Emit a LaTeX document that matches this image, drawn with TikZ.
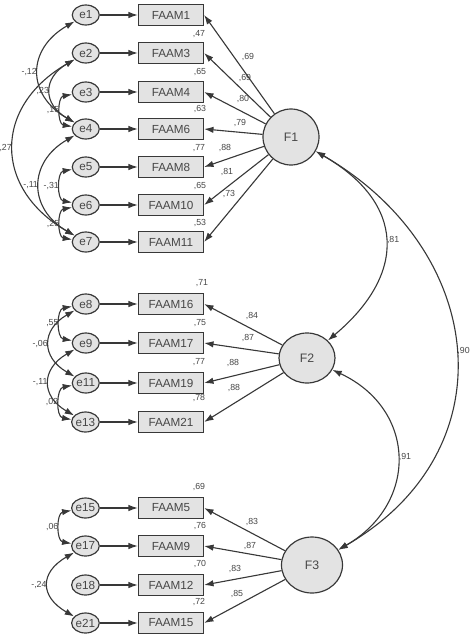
\documentclass[tikz,border=0pt]{standalone}
\usepackage{fontspec}
\setmainfont{Liberation Sans}
\usetikzlibrary{shapes.geometric, arrows.meta, positioning}

\definecolor{linegray}{HTML}{383838}
\definecolor{fillgray}{HTML}{E3E3E3}
\definecolor{textgray}{HTML}{474747}

\tikzset{
  obs/.style={draw=linegray, fill=fillgray, line width=1.1pt, minimum width=1.95cm,
    minimum height=0.63cm, inner sep=0pt, text=textgray, font=\fontsize{10}{12}\selectfont},
  err/.style={ellipse, draw=linegray, fill=fillgray, line width=1pt, minimum width=0.81cm,
    minimum height=0.6cm, inner sep=0pt, text=textgray, font=\fontsize{10}{12}\selectfont},
  lat/.style={ellipse, draw=linegray, fill=fillgray, line width=1pt, inner sep=0pt,
    text=textgray, font=\fontsize{10.5}{12}\selectfont},
  lbl/.style={text=textgray, inner sep=1pt, font=\fontsize{7.5}{9}\selectfont},
  cov/.style={<->, color=linegray, line width=0.95pt},
  >={Latex[length=8pt,width=5.5pt]}
}

\begin{document}
\begin{tikzpicture}[x=0.03cm, y=-0.03cm, node distance=1.14cm]
          \useasboundingbox (0,0) rectangle (472,638);

          % F1 block
          \node (FAAM1) [obs] at (171,15) {FAAM1};
          \node (FAAM3) [obs] at (171,53) {FAAM3};
          \node (FAAM4) [obs] at (171,92) {FAAM4};
          \node (FAAM6) [obs] at (171,129) {FAAM6};
          \node (FAAM8) [obs] at (171,167) {FAAM8};
          \node (FAAM10) [obs] at (171,205) {FAAM10};
          \node (FAAM11) [obs] at (171,242) {FAAM11};
          \node (e1) [err, left = of FAAM1] {e1};
          \node (e2) [err, left = of FAAM3] {e2};
          \node (e3) [err, left = of FAAM4] {e3};
          \node (e4) [err, left = of FAAM6] {e4};
          \node (e5) [err, left = of FAAM8] {e5};
          \node (e6) [err, left = of FAAM10] {e6};
          \node (e7) [err, left = of FAAM11] {e7};
          \node (F1) [lat, circle, minimum size=1.68cm] at (291,137) {F1};

          % F2 block
          \node (FAAM16) [obs] at (171,304) {FAAM16};
          \node (FAAM17) [obs] at (171,343) {FAAM17};
          \node (FAAM19) [obs] at (171,383) {FAAM19};
          \node (FAAM21) [obs] at (171,422) {FAAM21};
          \node (e8) [err, left = of FAAM16] {e8};
          \node (e9) [err, left = of FAAM17] {e9};
          \node (e11) [err, left = of FAAM19] {e11};
          \node (e13) [err, left = of FAAM21] {e13};
          \node (F2) [lat, minimum width=1.68cm, minimum height=1.5cm] at (307,358) {F2};

          % F3 block
          \node (FAAM5) [obs] at (171,508) {FAAM5};
          \node (FAAM9) [obs] at (171,546) {FAAM9};
          \node (FAAM12) [obs] at (171,585) {FAAM12};
          \node (FAAM15) [obs] at (171,623) {FAAM15};
          \node (e15) [err, left = of FAAM5] {e15};
          \node (e17) [err, left = of FAAM9] {e17};
          \node (e18) [err, left = of FAAM12] {e18};
          \node (e21) [err, left = of FAAM15] {e21};
          \node (F3) [lat, minimum width=1.83cm, minimum height=1.68cm] at (312,565) {F3};

          % squared multiple correlations
          \node (r3) [lbl] at (199,34) {,47};
          \node (r4) [lbl] at (200,72) {,65};
          \node (r6) [lbl] at (200,109) {,63};
          \node (r8) [lbl] at (199,148) {,77};
          \node (r10) [lbl] at (200,186) {,65};
          \node (r11) [lbl] at (200,223) {,53};
          \node (r16) [lbl] at (202,283) {,71};
          \node (r17) [lbl] at (200,323) {,75};
          \node (r19) [lbl] at (199,362) {,77};
          \node (r21) [lbl] at (199,398) {,78};
          \node (r5) [lbl] at (199,487) {,69};
          \node (r9) [lbl] at (200,526) {,76};
          \node (r12) [lbl] at (200,564) {,70};
          \node (r15) [lbl] at (199,602) {,72};

          % loadings
          \node (l1) [lbl] at (248,57) {,69};
          \node (l3) [lbl] at (245,78) {,69};
          \node (l4) [lbl] at (243,99) {,80};
          \node (l6) [lbl] at (240,123) {,79};
          \node (l8) [lbl] at (225,148) {,88};
          \node (l10) [lbl] at (227,172) {,81};
          \node (l11) [lbl] at (229,194) {,73};
          \node (l16) [lbl] at (252,316) {,84};
          \node (l17) [lbl] at (248,338) {,87};
          \node (l19) [lbl] at (233,363) {,88};
          \node (l21) [lbl] at (234,388) {,88};
          \node (l5) [lbl] at (252,522) {,83};
          \node (l9) [lbl] at (250,546) {,87};
          \node (l12) [lbl] at (235,569) {,83};
          \node (l15) [lbl] at (237,594) {,85};

          \path [->, color=linegray, line width=0.95pt]
              (e1) edge (FAAM1)  (e2) edge (FAAM3)  (e3) edge (FAAM4)
              (e4) edge (FAAM6)  (e5) edge (FAAM8)  (e6) edge (FAAM10)
              (e7) edge (FAAM11)
              (e8) edge (FAAM16)  (e9) edge (FAAM17)  (e11) edge (FAAM19)
              (e13) edge (FAAM21)
              (e15) edge (FAAM5)  (e17) edge (FAAM9)  (e18) edge (FAAM12)
              (e21) edge (FAAM15)
              (F1) edge (FAAM1.east)  (F1) edge (FAAM3.east)  (F1) edge (FAAM4.east)
              (F1) edge (FAAM6.east)  (F1) edge (FAAM8.east)  (F1) edge (FAAM10.east)
              (F1) edge (FAAM11.east)
              (F2) edge (FAAM16.east)  (F2) edge (FAAM17.east)
              (F2) edge (FAAM19.east)  (F2) edge (FAAM21.east)
              (F3) edge (FAAM5.east)  (F3) edge (FAAM9.east)
              (F3) edge (FAAM12.east)  (F3) edge (FAAM15.east)
              ;

          \path [cov]
              (e1) edge [out=210, in=150, looseness=1.41] node[lbl, left] {-,12} (e4)
              (e2) edge [out=210, in=150, looseness=1.5] node[lbl, left] {,23} (e4)
              (e3) edge [out=190, in=170, looseness=1.2] node[lbl, left] {,15} (e4)
              (e2) edge [out=210, in=150, looseness=1.37] node[lbl, left] {,27} (e7)
              (e4) edge [out=210, in=150, looseness=1.38] node[lbl, left] {-,11} (e7)
              (e5) edge [out=190, in=170, looseness=1.2] node[lbl, left] {-,31} (e6)
              (e6) edge [out=190, in=170, looseness=1.2] node[lbl, left] {,25} (e7)
              (e8) edge [out=190, in=170, looseness=1.2] node[lbl, left] {,55} (e9)
              (e8) edge [out=210, in=150, looseness=1.5] node[lbl, left] {-,06} (e11)
              (e9) edge [out=210, in=150, looseness=1.5] node[lbl, left] {-,11} (e13)
              (e11) edge [out=190, in=170, looseness=1.2] node[lbl, left] {,02} (e13)
              (e15) edge [out=190, in=170, looseness=1.2] node[lbl, left] {,06} (e17)
              (e17) edge [out=210, in=150, looseness=1.6] node[lbl, left] {-,24} (e21)
              (F1) edge [out=-30, in=40, looseness=1.4] node[lbl, right] {,81} (F2)
              (F1) edge [out=-30, in=30, looseness=1.27] node[lbl, right] {,90} (F3)
              (F2) edge [out=-25, in=30, looseness=1.32] node[lbl, right] {,91} (F3)
              ;
      \end{tikzpicture}
\end{document}
